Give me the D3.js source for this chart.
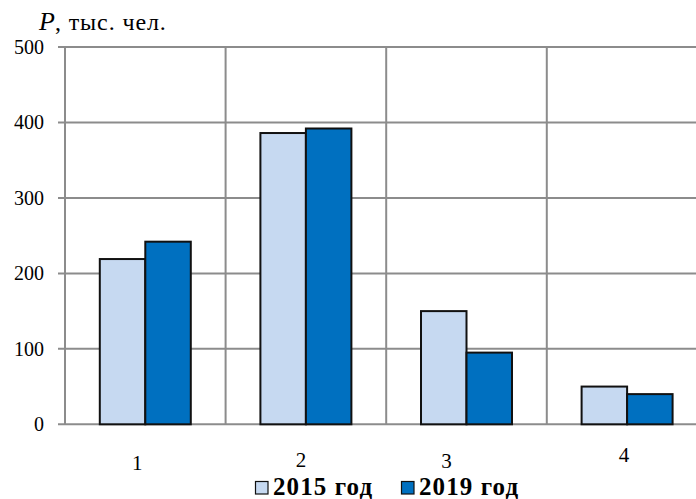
<!DOCTYPE html>
<html><head><meta charset="utf-8">
<script src="https://cdn.jsdelivr.net/npm/d3@7"></script>
</head><body style="margin:0">
<svg id="c" width="696" height="499"></svg>
<script>
const categories = ["1", "2", "3", "4"];
const seriesNames = ["2015 год", "2019 год"];
const values2015 = [219, 386, 150, 50];
const values2019 = [242, 392, 95, 40];
const yTicks = [0, 100, 200, 300, 400, 500];
const colors = ["#C6D9F1", "#0070C0"];

const FONT = '"Liberation Serif"';
const svg = d3.select("#c");
const L = 65, R = 707.4, T = 47, B = 424.3;

const x = d3.scaleBand().domain(categories).range([L, R]).paddingInner(0).paddingOuter(0);
const y = d3.scaleLinear().domain([0, 500]).range([B, T]);
const xs = d3.scaleBand().domain(seriesNames).range([0, x.bandwidth()]).paddingInner(0).paddingOuter(0.765);

const grid = "#8c8c8c";
svg.append("g").selectAll("line").data(yTicks).join("line")
  .attr("x1", L - 7).attr("x2", R).attr("y1", d => y(d)).attr("y2", d => y(d))
  .attr("stroke", grid).attr("stroke-width", 2);
svg.append("g").selectAll("line").data(categories.concat(["_end"])).join("line")
  .attr("x1", (d, i) => L + i * x.bandwidth()).attr("x2", (d, i) => L + i * x.bandwidth())
  .attr("y1", T).attr("y2", B)
  .attr("stroke", grid).attr("stroke-width", 2);

svg.append("g").selectAll("text").data(yTicks).join("text")
  .attr("x", 44).attr("y", d => y(d) + 7)
  .attr("text-anchor", "end")
  .style("font-family", FONT).style("font-size", "20px")
  .text(d => d);

const series = [values2015, values2019];
series.forEach((vals, si) => {
  svg.append("g").selectAll("rect").data(vals).join("rect")
    .attr("x", (d, i) => x(categories[i]) + xs(seriesNames[si]))
    .attr("width", xs.bandwidth())
    .attr("y", d => y(d)).attr("height", d => B - y(d))
    .attr("fill", colors[si]).attr("stroke", "#111").attr("stroke-width", 2);
});

const nudge = [[-8, 0], [-5, -3.5], [-20, -2], [-3, -8]];
svg.append("g").selectAll("text").data(categories).join("text")
  .attr("x", (d, i) => x(d) + x.bandwidth() / 2 + nudge[i][0])
  .attr("y", (d, i) => 470 + nudge[i][1])
  .attr("text-anchor", "middle")
  .style("font-family", FONT).style("font-size", "21px")
  .text(d => d);

const t = svg.append("text").attr("x", 39).attr("y", 30)
  .style("font-family", FONT).style("font-size", "24px");
t.append("tspan").style("font-style", "italic").style("font-size", "26px").text("P");
t.append("tspan").style("letter-spacing", "0.9px").text(", тыс. чел.");

const legX = [255, 401];
seriesNames.forEach((n, i) => {
  svg.append("rect").attr("x", legX[i] + 0.5).attr("y", 481.5).attr("width", 12.5).attr("height", 12.5)
    .attr("fill", colors[i]).attr("stroke", "#111").attr("stroke-width", 1.2);
  svg.append("text").attr("x", legX[i] + 18).attr("y", 495)
    .style("font-family", FONT).style("font-size", "25px").style("font-weight", "bold")
    .style("letter-spacing", "1.1px").text(n);
});
</script>
</body></html>
